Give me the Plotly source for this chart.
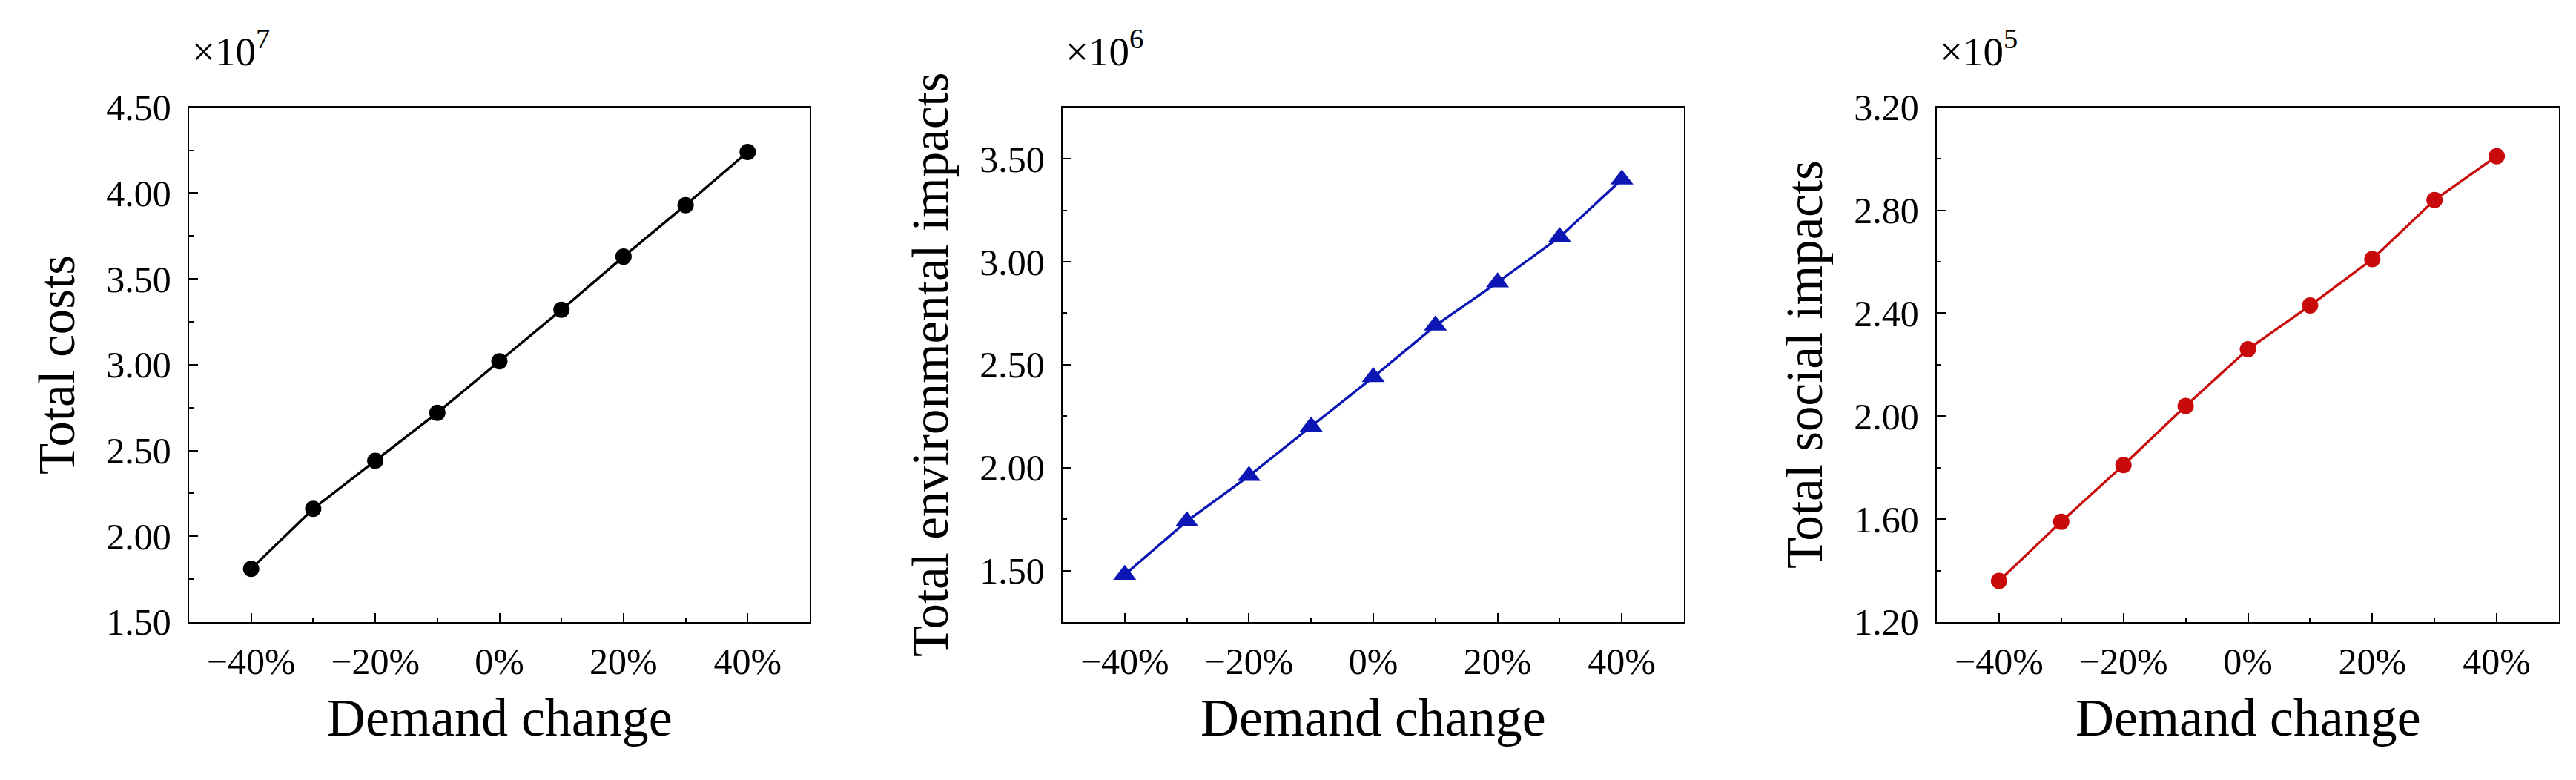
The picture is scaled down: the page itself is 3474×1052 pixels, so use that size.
import plotly.graph_objects as go

# ---------------- data ----------------
demand_change = [-40, -30, -20, -10, 0, 10, 20, 30, 40]          # %
total_costs = [1.81, 2.16, 2.44, 2.72, 3.02, 3.32, 3.63, 3.93, 4.24]   # x10^7
total_env = [1.48, 1.74, 1.96, 2.20, 2.44, 2.69, 2.90, 3.12, 3.40]     # x10^6
total_social = [1.36, 1.59, 1.81, 2.04, 2.26, 2.43, 2.61, 2.84, 3.01]  # x10^5

x_tickvals = [-40, -20, 0, 20, 40]
x_ticktext = ["\u221240%", "\u221220%", "0%", "20%", "40%"]

y_titles = ["Total costs", "Total environmental impacts", "Total social impacts"]
exponents = ["7", "6", "5"]
x_title = "Demand change"

W, H = 3474, 1052
FONT = "Liberation Serif"

panels = [
    dict(y=total_costs, color="#000000", symbol="circle", size=22,
         yrange=[1.5, 4.5], ytick0=1.5, ydtick=0.5, yminor=0.25,
         px=(247, 1084)),
    dict(y=total_env, color="#0B16B4", symbol="triangle-up", size=27,
         yrange=[1.25, 3.75], ytick0=1.5, ydtick=0.5, yminor=0.25,
         px=(1425, 2263)),
    dict(y=total_social, color="#C80A0A", symbol="circle", size=22,
         yrange=[1.2, 3.2], ytick0=1.2, ydtick=0.4, yminor=0.2,
         px=(2604, 3443)),
]
top_px, bot_px = 115, 849

fig = go.Figure()
annotations = []
for i, p in enumerate(panels):
    n = i + 1
    xa = "x" if n == 1 else f"x{n}"
    ya = "y" if n == 1 else f"y{n}"
    fig.add_trace(go.Scatter(
        x=demand_change, y=p["y"], mode="lines+markers",
        line=dict(color=p["color"], width=3.4),
        marker=dict(symbol=p["symbol"], size=p["size"], color=p["color"],
                    line=dict(width=0)),
        xaxis=xa, yaxis=ya, showlegend=False, cliponaxis=False))

    dom_x = [p["px"][0] / W, p["px"][1] / W]
    dom_y = [(H - bot_px) / H, (H - top_px) / H]
    axis_common = dict(showline=True, linecolor="black", linewidth=2.4,
                       mirror=True, showgrid=False, zeroline=False,
                       ticks="inside", tickcolor="black", tickwidth=2.4,
                       ticklen=12,
                       tickfont=dict(family=FONT, size=50, color="black"))
    fig.layout[f"xaxis{'' if n == 1 else n}"] = dict(
        domain=dom_x, anchor=ya, range=[-50, 50],
        tickmode="array", tickvals=x_tickvals, ticktext=x_ticktext,
        minor=dict(ticks="inside", ticklen=6, tickwidth=2.4, tickcolor="black",
                   tickmode="array", tickvals=[-30, -10, 10, 30]),
        ticklabelstandoff=8, **axis_common)
    fig.layout[f"yaxis{'' if n == 1 else n}"] = dict(
        domain=dom_y, anchor=xa, range=p["yrange"],
        tick0=p["ytick0"], dtick=p["ydtick"], tickformat=".2f",
        minor=dict(ticks="inside", ticklen=6, tickwidth=2.4, tickcolor="black",
                   tick0=p["ytick0"] - p["yminor"], dtick=p["ydtick"]),
        ticklabelstandoff=12, **axis_common)

    # y title
    annotations.append(dict(
        text=y_titles[i], textangle=-90, xref="paper", yref="paper",
        x=(p["px"][0] - 178) / W, y=(H - (top_px + bot_px) / 2) / H,
        xanchor="center", yanchor="middle", showarrow=False,
        font=dict(family=FONT, size=69, color="black")))
    # x title
    annotations.append(dict(
        text=x_title, xref="paper", yref="paper",
        x=(p["px"][0] + p["px"][1]) / 2 / W, y=(H - 985) / H,
        xanchor="center", yanchor="middle", showarrow=False,
        font=dict(family=FONT, size=72, color="black")))
    # multiplier
    annotations.append(dict(
        text="\u00d710<sup>" + exponents[i] + "</sup>", xref="paper", yref="paper",
        x=(p["px"][0] + 2) / W, y=(H - 70) / H,
        xanchor="left", yanchor="bottom", showarrow=False,
        font=dict(family=FONT, size=55, color="black")))

fig.update_layout(width=W, height=H, margin=dict(l=0, r=0, t=0, b=0),
                  paper_bgcolor="white", plot_bgcolor="white",
                  annotations=annotations)
fig.write_html("out.html")
